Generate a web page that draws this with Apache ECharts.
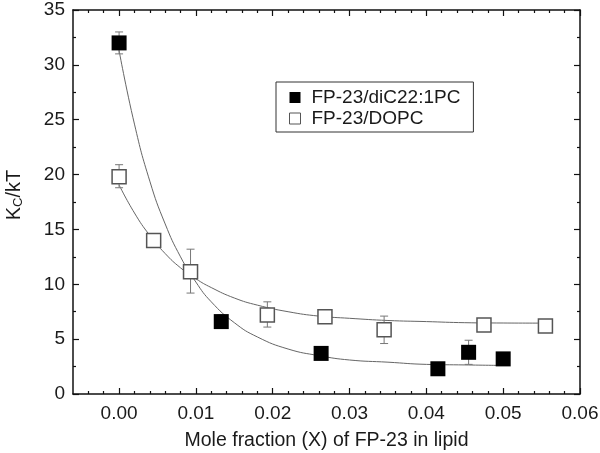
<!DOCTYPE html>
<html>
<head>
<meta charset="utf-8">
<script src="https://cdn.jsdelivr.net/npm/echarts@6/dist/echarts.min.js"></script>
<style>
  html, body { margin: 0; padding: 0; background: #fff; }
  #chart { width: 600px; height: 453px; }
</style>
</head>
<body>
<div id="chart"></div>
<script>
const diC22X = [0.0000, 0.0133, 0.0263, 0.0415, 0.0455, 0.0500];
const diC22Y = [32.0, 6.6, 3.7, 2.3, 3.8, 3.2];
const diC22Lo = [31.0, 6.1, 3.5, 2.1, 2.7, 3.0];
const diC22Hi = [33.0, 7.2, 3.9, 2.5, 4.9, 3.4];

const dopcX = [0.0000, 0.0045, 0.0093, 0.0193, 0.0268, 0.0345, 0.0475, 0.0555];
const dopcY = [19.8, 14.0, 11.15, 7.2, 7.05, 5.85, 6.3, 6.2];
const dopcLo = [18.8, 13.8, 9.2, 6.1, 6.6, 4.6, 6.1, 6.0];
const dopcHi = [20.9, 14.2, 13.2, 8.4, 7.5, 7.1, 6.5, 6.4];

// fitted curves as traced in the figure
const fitDiC22X = [0, 0.002, 0.004, 0.006, 0.008, 0.010, 0.012, 0.015, 0.018, 0.022, 0.026, 0.030, 0.035, 0.040, 0.045, 0.050];
const fitDiC22Y = [31.3, 24.6, 19.4, 15.5, 12.5, 10.2, 8.4, 6.5, 5.2, 4.1, 3.5, 3.1, 2.9, 2.7, 2.65, 2.6];
const fitDopcX = [0, 0.002, 0.004, 0.006, 0.008, 0.010, 0.012, 0.015, 0.018, 0.022, 0.026, 0.030, 0.035, 0.040, 0.045, 0.050, 0.0555];
const fitDopcY = [19.05, 16.5, 14.45, 12.8, 11.5, 10.5, 9.7, 8.75, 8.1, 7.5, 7.1, 6.9, 6.7, 6.6, 6.5, 6.47, 6.46];

const xMajor = [0, 0.01, 0.02, 0.03, 0.04, 0.05, 0.06];
const xMinor = [-0.004, -0.002, 0.002, 0.004, 0.006, 0.008, 0.012, 0.014, 0.016, 0.018,
  0.022, 0.024, 0.026, 0.028, 0.032, 0.034, 0.036, 0.038, 0.042, 0.044, 0.046, 0.048,
  0.052, 0.054, 0.056, 0.058];

const pairs = (xs, ys) => xs.map((x, i) => [x, ys[i]]);
const errs = (xs, lo, hi) => xs.map((x, i) => [x, lo[i], hi[i]]);

const FONT = 'Liberation Sans, Arial, sans-serif';
const AX = '#111';
const TXT = '#1a1a1a';

function errorBars(params, api) {
  const x = api.value(0);
  const lo = api.coord([x, api.value(1)]);
  const hi = api.coord([x, api.value(2)]);
  const w = 4;
  const st = { stroke: '#777', lineWidth: 1 };
  return {
    type: 'group',
    children: [
      { type: 'line', shape: { x1: lo[0], y1: lo[1], x2: hi[0], y2: hi[1] }, style: st },
      { type: 'line', shape: { x1: lo[0] - w, y1: lo[1], x2: lo[0] + w, y2: lo[1] }, style: st },
      { type: 'line', shape: { x1: hi[0] - w, y1: hi[1], x2: hi[0] + w, y2: hi[1] }, style: st }
    ]
  };
}

function xAx(pos, minor, showLabel, showLine) {
  return {
    type: 'value', position: pos, min: -0.006, max: 0.06,
    axisLine: { show: showLine, onZero: false, lineStyle: { color: AX, width: 1.5 } },
    axisTick: { show: true, inside: true, length: minor ? 3 : 6, customValues: minor ? xMinor : xMajor,
      lineStyle: { color: AX, width: 1.2 } },
    axisLabel: { show: showLabel, customValues: xMajor, color: TXT, fontSize: 19, fontFamily: FONT, margin: 10,
      formatter: v => v.toFixed(2) },
    splitLine: { show: false },
    name: showLabel ? 'Mole fraction (X) of FP-23 in lipid' : '',
    nameLocation: 'middle', nameGap: 37,
    nameTextStyle: { color: TXT, fontSize: 19.5, fontFamily: FONT }
  };
}

function yAx(pos, showLabel) {
  return {
    type: 'value', position: pos, min: 0, max: 35, interval: 5,
    axisLine: { show: true, onZero: false, lineStyle: { color: AX, width: 1.5 } },
    axisTick: { show: true, inside: true, length: 6, lineStyle: { color: AX, width: 1.2 } },
    minorTick: { show: true, splitNumber: 2, length: 3, lineStyle: { color: AX, width: 1.2 } },
    axisLabel: { show: showLabel, color: TXT, fontSize: 19, fontFamily: FONT, margin: 8 },
    splitLine: { show: false },
    name: showLabel ? '{k|K}{s|C}{k|/kT}' : '',
    nameLocation: 'middle', nameGap: 48, nameRotate: 90,
    nameTextStyle: {
      color: TXT, fontFamily: FONT, padding: [0, 0, 0, 14],
      rich: {
        k: { fontSize: 20, fontFamily: FONT, color: TXT, lineHeight: 22 },
        s: { fontSize: 13, fontFamily: FONT, color: TXT, lineHeight: 22, verticalAlign: 'bottom', padding: [12, 0, 0, 0] }
      }
    }
  };
}

const chart = echarts.init(document.getElementById('chart'));
chart.setOption({
  animation: false,
  backgroundColor: '#fff',
  grid: { left: 73, right: 20, top: 10, bottom: 59, outerBoundsMode: 'none', containLabel: false },
  xAxis: [xAx('bottom', false, true, true), xAx('bottom', true, false, false),
          xAx('top', false, false, true), xAx('top', true, false, false)],
  yAxis: [yAx('left', true), yAx('right', false)],
  legend: {
    left: 276, top: 82, orient: 'vertical', itemGap: 2, itemWidth: 11, itemHeight: 11,
    padding: [6, 13, 4, 13],
    borderColor: '#333', borderWidth: 1, backgroundColor: '#fff', borderRadius: 0,
    textStyle: { color: TXT, fontSize: 19, fontFamily: FONT, padding: [0, 0, 0, 6] },
    data: [
      { name: 'FP-23/diC22:1PC', icon: 'rect', itemStyle: { color: '#000', borderWidth: 0 } },
      { name: 'FP-23/DOPC', icon: 'rect', itemStyle: { color: '#fff', borderColor: '#555', borderWidth: 1 } }
    ]
  },
  series: [
    { type: 'line', data: pairs(fitDiC22X, fitDiC22Y), smooth: true, symbol: 'none', silent: true,
      lineStyle: { color: '#666', width: 1 }, z: 1 },
    { type: 'line', data: pairs(fitDopcX, fitDopcY), smooth: true, symbol: 'none', silent: true,
      lineStyle: { color: '#666', width: 1 }, z: 1 },
    { type: 'custom', data: errs(diC22X, diC22Lo, diC22Hi), renderItem: errorBars, z: 2 },
    { type: 'custom', data: errs(dopcX, dopcLo, dopcHi), renderItem: errorBars, z: 2 },
    { name: 'FP-23/diC22:1PC', type: 'scatter', data: pairs(diC22X, diC22Y), symbol: 'rect', symbolSize: 15,
      itemStyle: { color: '#000', opacity: 1 }, z: 3 },
    { name: 'FP-23/DOPC', type: 'scatter', data: pairs(dopcX, dopcY), symbol: 'rect', symbolSize: 14,
      itemStyle: { color: '#fff', borderColor: '#555', borderWidth: 1.5, opacity: 1 }, z: 3 }
  ]
});
</script>
</body>
</html>
